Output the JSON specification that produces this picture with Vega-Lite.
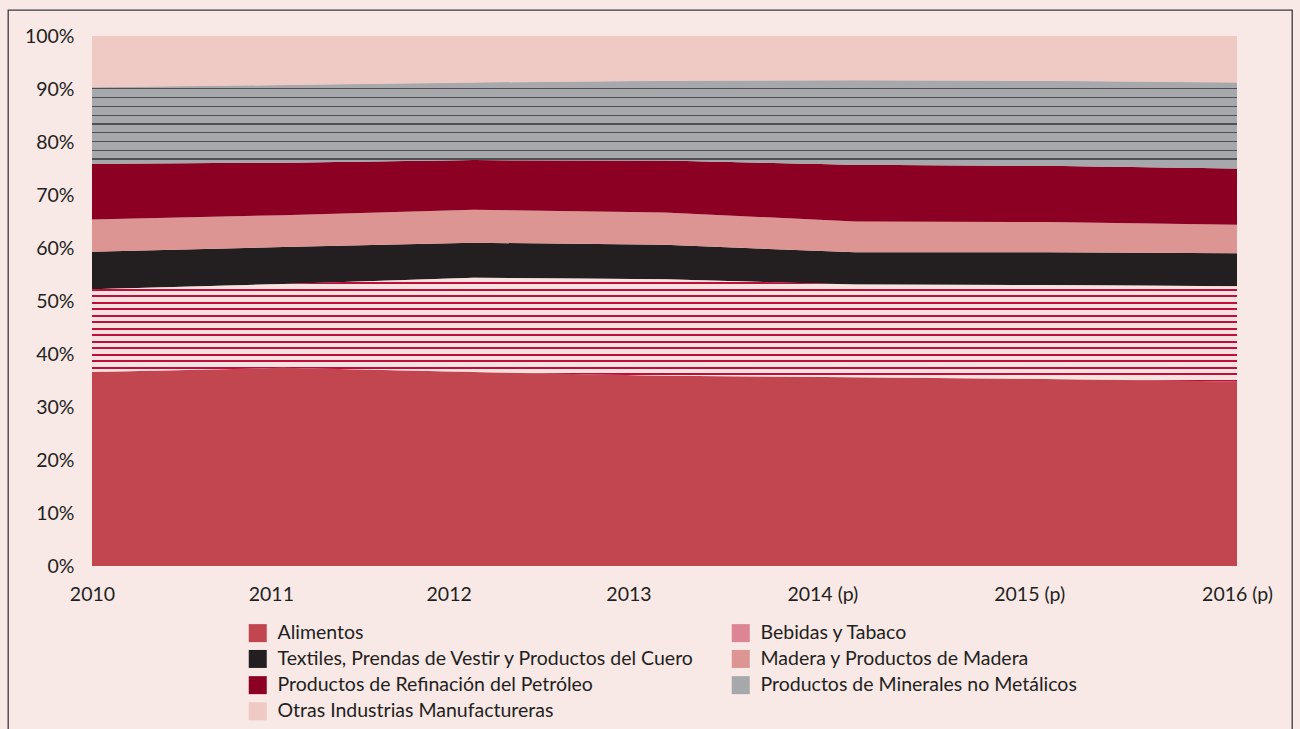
{
  "$schema": "https://vega.github.io/schema/vega-lite/v6.json",
  "width": 1284,
  "height": 719,
  "autosize": {"type": "none"},
  "padding": {"left": 8, "top": 10, "right": 8, "bottom": 0},
  "background": "#f8e8e6",
  "config": {
    "view": {"fill": "#f8e8e6", "stroke": "#3a3a3c", "strokeWidth": 1.3, "strokeDash": [2003, 1284, 719, 0]},
    "font": "Lato",
    "axis": {"labelFont": "Lato", "labelFontSize": 19.5, "labelColor": "#231f20", "domain": false, "ticks": false, "grid": false, "title": null, "labelPadding": 0}
  },
  "data": {
    "values": [
      {"year": "2010", "sector": "Alimentos", "share": 36.6},
      {"year": "2010", "sector": "Bebidas y Tabaco", "share": 15.6},
      {"year": "2010", "sector": "Textiles, Prendas de Vestir y Productos del Cuero", "share": 7.1},
      {"year": "2010", "sector": "Madera y Productos de Madera", "share": 6.1},
      {"year": "2010", "sector": "Productos de Refinación del Petróleo", "share": 10.5},
      {"year": "2010", "sector": "Productos de Minerales no Metálicos", "share": 14.4},
      {"year": "2010", "sector": "Otras Industrias Manufactureras", "share": 9.7},
      {"year": "2011", "sector": "Alimentos", "share": 37.4},
      {"year": "2011", "sector": "Bebidas y Tabaco", "share": 15.8},
      {"year": "2011", "sector": "Textiles, Prendas de Vestir y Productos del Cuero", "share": 7.0},
      {"year": "2011", "sector": "Madera y Productos de Madera", "share": 6.0},
      {"year": "2011", "sector": "Productos de Refinación del Petróleo", "share": 9.9},
      {"year": "2011", "sector": "Productos de Minerales no Metálicos", "share": 14.6},
      {"year": "2011", "sector": "Otras Industrias Manufactureras", "share": 9.3},
      {"year": "2012", "sector": "Alimentos", "share": 36.6},
      {"year": "2012", "sector": "Bebidas y Tabaco", "share": 17.8},
      {"year": "2012", "sector": "Textiles, Prendas de Vestir y Productos del Cuero", "share": 6.6},
      {"year": "2012", "sector": "Madera y Productos de Madera", "share": 6.2},
      {"year": "2012", "sector": "Productos de Refinación del Petróleo", "share": 9.4},
      {"year": "2012", "sector": "Productos de Minerales no Metálicos", "share": 14.6},
      {"year": "2012", "sector": "Otras Industrias Manufactureras", "share": 8.8},
      {"year": "2013", "sector": "Alimentos", "share": 35.9},
      {"year": "2013", "sector": "Bebidas y Tabaco", "share": 18.2},
      {"year": "2013", "sector": "Textiles, Prendas de Vestir y Productos del Cuero", "share": 6.5},
      {"year": "2013", "sector": "Madera y Productos de Madera", "share": 6.1},
      {"year": "2013", "sector": "Productos de Refinación del Petróleo", "share": 9.8},
      {"year": "2013", "sector": "Productos de Minerales no Metálicos", "share": 15.0},
      {"year": "2013", "sector": "Otras Industrias Manufactureras", "share": 8.5},
      {"year": "2014 (p)", "sector": "Alimentos", "share": 35.6},
      {"year": "2014 (p)", "sector": "Bebidas y Tabaco", "share": 17.5},
      {"year": "2014 (p)", "sector": "Textiles, Prendas de Vestir y Productos del Cuero", "share": 6.1},
      {"year": "2014 (p)", "sector": "Madera y Productos de Madera", "share": 5.8},
      {"year": "2014 (p)", "sector": "Productos de Refinación del Petróleo", "share": 10.7},
      {"year": "2014 (p)", "sector": "Productos de Minerales no Metálicos", "share": 15.9},
      {"year": "2014 (p)", "sector": "Otras Industrias Manufactureras", "share": 8.4},
      {"year": "2015 (p)", "sector": "Alimentos", "share": 35.3},
      {"year": "2015 (p)", "sector": "Bebidas y Tabaco", "share": 17.7},
      {"year": "2015 (p)", "sector": "Textiles, Prendas de Vestir y Productos del Cuero", "share": 6.2},
      {"year": "2015 (p)", "sector": "Madera y Productos de Madera", "share": 5.7},
      {"year": "2015 (p)", "sector": "Productos de Refinación del Petróleo", "share": 10.6},
      {"year": "2015 (p)", "sector": "Productos de Minerales no Metálicos", "share": 16.0},
      {"year": "2015 (p)", "sector": "Otras Industrias Manufactureras", "share": 8.5},
      {"year": "2016 (p)", "sector": "Alimentos", "share": 34.8},
      {"year": "2016 (p)", "sector": "Bebidas y Tabaco", "share": 18.0},
      {"year": "2016 (p)", "sector": "Textiles, Prendas de Vestir y Productos del Cuero", "share": 6.2},
      {"year": "2016 (p)", "sector": "Madera y Productos de Madera", "share": 5.4},
      {"year": "2016 (p)", "sector": "Productos de Refinación del Petróleo", "share": 10.6},
      {"year": "2016 (p)", "sector": "Productos de Minerales no Metálicos", "share": 16.2},
      {"year": "2016 (p)", "sector": "Otras Industrias Manufactureras", "share": 8.8}
    ]
  },
  "transform": [
    {"calculate": "indexof(['Alimentos', 'Bebidas y Tabaco', 'Textiles, Prendas de Vestir y Productos del Cuero', 'Madera y Productos de Madera', 'Productos de Refinación del Petróleo', 'Productos de Minerales no Metálicos', 'Otras Industrias Manufactureras'], datum.sector)", "as": "rank"},
    {"stack": "share", "groupby": ["year"], "offset": "normalize", "sort": [{"field": "rank", "order": "ascending"}], "as": ["lo", "hi"]}
  ],
  "encoding": {
    "x": {
      "field": "year",
      "type": "ordinal",
      "sort": null,
      "scale": {"type": "point", "domain": ["2010", "2011", "2012", "2013", "2014 (p)", "2015 (p)", "2016 (p)"], "padding": 0.3642, "align": 0.6043},
      "axis": {
        "orient": "bottom",
        "offset": -135,
        "labelAngle": 0,
        "labelBaseline": "middle",
        "labelOverlap": false,
        "labelOffset": {
          "condition": [
            {"test": "datum.value === '2011'", "value": -12},
            {"test": "datum.value === '2012'", "value": -25},
            {"test": "datum.value === '2013'", "value": -36},
            {"test": "datum.value === '2014 (p)'", "value": -33},
            {"test": "datum.value === '2015 (p)'", "value": -17}
          ],
          "value": 0
        }
      }
    },
    "y": {
      "field": "lo",
      "type": "quantitative",
      "scale": {"domain": [-0.3075, 1.0491], "nice": false, "zero": false},
      "axis": {"orient": "left", "offset": -66, "values": [0, 0.1, 0.2, 0.3, 0.4, 0.5, 0.6, 0.7, 0.8, 0.9, 1], "format": ".0%", "labelOverlap": false, "labelFlush": false}
    },
    "y2": {"field": "hi"}
  },
  "layer": [
    {
      "mark": {"type": "area", "interpolate": "linear"},
      "encoding": {
        "color": {
          "field": "sector",
          "type": "nominal",
          "scale": {
            "domain": ["Alimentos", "Bebidas y Tabaco", "Textiles, Prendas de Vestir y Productos del Cuero", "Madera y Productos de Madera", "Productos de Refinación del Petróleo", "Productos de Minerales no Metálicos", "Otras Industrias Manufactureras"],
            "range": ["#c1464f", "#dc8595", "#231f20", "#dc9592", "#8c0024", "#a6a8ab", "#efc9c3"]
          },
          "legend": {
            "orient": "none",
            "legendX": 240,
            "legendY": 613,
            "columns": 2,
            "direction": "horizontal",
            "title": null,
            "padding": 0,
            "symbolType": "square",
            "symbolSize": 324,
            "symbolStrokeWidth": 0,
            "symbolOpacity": 1,
            "labelFont": "Lato",
            "labelFontSize": 19.5,
            "labelColor": "#231f20",
            "labelLimit": 700,
            "labelOffset": 10,
            "rowPadding": 5.2,
            "columnPadding": 36,
            "encode": {
              "symbols": {
                "update": {
                  "fill": [
                    {
                      "test": "datum.value === 'Bebidas y Tabaco'",
                      "value": {
                        "gradient": "linear", "x1": 0, "y1": 0, "x2": 0, "y2": 1,
                        "stops": [
                          {"offset": 0, "color": "#f6e2de"}, {"offset": 0.15, "color": "#f6e2de"}, {"offset": 0.15, "color": "#c00d3b"}, {"offset": 0.25, "color": "#c00d3b"},
                          {"offset": 0.25, "color": "#f6e2de"}, {"offset": 0.4, "color": "#f6e2de"}, {"offset": 0.4, "color": "#c00d3b"}, {"offset": 0.5, "color": "#c00d3b"},
                          {"offset": 0.5, "color": "#f6e2de"}, {"offset": 0.65, "color": "#f6e2de"}, {"offset": 0.65, "color": "#c00d3b"}, {"offset": 0.75, "color": "#c00d3b"},
                          {"offset": 0.75, "color": "#f6e2de"}, {"offset": 0.9, "color": "#f6e2de"}, {"offset": 0.9, "color": "#c00d3b"}, {"offset": 1, "color": "#c00d3b"}
                        ]
                      }
                    },
                    {
                      "test": "datum.value === 'Productos de Minerales no Metálicos'",
                      "value": {
                        "gradient": "linear", "x1": 0, "y1": 0, "x2": 0, "y2": 1,
                        "stops": [
                          {"offset": 0, "color": "#a6a8ab"}, {"offset": 0.28, "color": "#a6a8ab"}, {"offset": 0.28, "color": "#505053"}, {"offset": 0.34, "color": "#505053"},
                          {"offset": 0.34, "color": "#a6a8ab"}, {"offset": 0.62, "color": "#a6a8ab"}, {"offset": 0.62, "color": "#505053"}, {"offset": 0.68, "color": "#505053"},
                          {"offset": 0.68, "color": "#a6a8ab"}, {"offset": 1, "color": "#a6a8ab"}
                        ]
                      }
                    },
                    {"scale": "color", "field": "value"}
                  ]
                }
              }
            }
          }
        }
      }
    },
    {
      "transform": [{"filter": "datum.sector === 'Bebidas y Tabaco'"}],
      "mark": {
        "type": "area",
        "fill": {
          "gradient": "linear", "x1": 0, "y1": 0, "x2": 0, "y2": 1,
          "stops": [
            {"offset": 0, "color": "#f6e2de"}, {"offset": 0.0425, "color": "#f6e2de"}, {"offset": 0.0425, "color": "#c00d3b"}, {"offset": 0.0625, "color": "#c00d3b"},
            {"offset": 0.0625, "color": "#f6e2de"}, {"offset": 0.105, "color": "#f6e2de"}, {"offset": 0.105, "color": "#c00d3b"}, {"offset": 0.125, "color": "#c00d3b"},
            {"offset": 0.125, "color": "#f6e2de"}, {"offset": 0.1675, "color": "#f6e2de"}, {"offset": 0.1675, "color": "#c00d3b"}, {"offset": 0.1875, "color": "#c00d3b"},
            {"offset": 0.1875, "color": "#f6e2de"}, {"offset": 0.23, "color": "#f6e2de"}, {"offset": 0.23, "color": "#c00d3b"}, {"offset": 0.25, "color": "#c00d3b"},
            {"offset": 0.25, "color": "#f6e2de"}, {"offset": 0.2925, "color": "#f6e2de"}, {"offset": 0.2925, "color": "#c00d3b"}, {"offset": 0.3125, "color": "#c00d3b"},
            {"offset": 0.3125, "color": "#f6e2de"}, {"offset": 0.355, "color": "#f6e2de"}, {"offset": 0.355, "color": "#c00d3b"}, {"offset": 0.375, "color": "#c00d3b"},
            {"offset": 0.375, "color": "#f6e2de"}, {"offset": 0.4175, "color": "#f6e2de"}, {"offset": 0.4175, "color": "#c00d3b"}, {"offset": 0.4375, "color": "#c00d3b"},
            {"offset": 0.4375, "color": "#f6e2de"}, {"offset": 0.48, "color": "#f6e2de"}, {"offset": 0.48, "color": "#c00d3b"}, {"offset": 0.5, "color": "#c00d3b"},
            {"offset": 0.5, "color": "#f6e2de"}, {"offset": 0.5425, "color": "#f6e2de"}, {"offset": 0.5425, "color": "#c00d3b"}, {"offset": 0.5625, "color": "#c00d3b"},
            {"offset": 0.5625, "color": "#f6e2de"}, {"offset": 0.605, "color": "#f6e2de"}, {"offset": 0.605, "color": "#c00d3b"}, {"offset": 0.625, "color": "#c00d3b"},
            {"offset": 0.625, "color": "#f6e2de"}, {"offset": 0.6675, "color": "#f6e2de"}, {"offset": 0.6675, "color": "#c00d3b"}, {"offset": 0.6875, "color": "#c00d3b"},
            {"offset": 0.6875, "color": "#f6e2de"}, {"offset": 0.73, "color": "#f6e2de"}, {"offset": 0.73, "color": "#c00d3b"}, {"offset": 0.75, "color": "#c00d3b"},
            {"offset": 0.75, "color": "#f6e2de"}, {"offset": 0.7925, "color": "#f6e2de"}, {"offset": 0.7925, "color": "#c00d3b"}, {"offset": 0.8125, "color": "#c00d3b"},
            {"offset": 0.8125, "color": "#f6e2de"}, {"offset": 0.855, "color": "#f6e2de"}, {"offset": 0.855, "color": "#c00d3b"}, {"offset": 0.875, "color": "#c00d3b"},
            {"offset": 0.875, "color": "#f6e2de"}, {"offset": 0.9175, "color": "#f6e2de"}, {"offset": 0.9175, "color": "#c00d3b"}, {"offset": 0.9375, "color": "#c00d3b"},
            {"offset": 0.9375, "color": "#f6e2de"}, {"offset": 0.98, "color": "#f6e2de"}, {"offset": 0.98, "color": "#c00d3b"}, {"offset": 1, "color": "#c00d3b"}
          ]
        }
      }
    },
    {
      "transform": [{"filter": "datum.sector === 'Productos de Minerales no Metálicos'"}],
      "mark": {
        "type": "area",
        "fill": {
          "gradient": "linear", "x1": 0, "y1": 0, "x2": 0, "y2": 1,
          "stops": [
            {"offset": 0, "color": "#a6a8ab"}, {"offset": 0.086, "color": "#a6a8ab"}, {"offset": 0.086, "color": "#505053"}, {"offset": 0.1, "color": "#505053"},
            {"offset": 0.1, "color": "#a6a8ab"}, {"offset": 0.186, "color": "#a6a8ab"}, {"offset": 0.186, "color": "#505053"}, {"offset": 0.2, "color": "#505053"},
            {"offset": 0.2, "color": "#a6a8ab"}, {"offset": 0.286, "color": "#a6a8ab"}, {"offset": 0.286, "color": "#505053"}, {"offset": 0.3, "color": "#505053"},
            {"offset": 0.3, "color": "#a6a8ab"}, {"offset": 0.386, "color": "#a6a8ab"}, {"offset": 0.386, "color": "#505053"}, {"offset": 0.4, "color": "#505053"},
            {"offset": 0.4, "color": "#a6a8ab"}, {"offset": 0.486, "color": "#a6a8ab"}, {"offset": 0.486, "color": "#505053"}, {"offset": 0.5, "color": "#505053"},
            {"offset": 0.5, "color": "#a6a8ab"}, {"offset": 0.586, "color": "#a6a8ab"}, {"offset": 0.586, "color": "#505053"}, {"offset": 0.6, "color": "#505053"},
            {"offset": 0.6, "color": "#a6a8ab"}, {"offset": 0.686, "color": "#a6a8ab"}, {"offset": 0.686, "color": "#505053"}, {"offset": 0.7, "color": "#505053"},
            {"offset": 0.7, "color": "#a6a8ab"}, {"offset": 0.786, "color": "#a6a8ab"}, {"offset": 0.786, "color": "#505053"}, {"offset": 0.8, "color": "#505053"},
            {"offset": 0.8, "color": "#a6a8ab"}, {"offset": 0.886, "color": "#a6a8ab"}, {"offset": 0.886, "color": "#505053"}, {"offset": 0.9, "color": "#505053"},
            {"offset": 0.9, "color": "#a6a8ab"}, {"offset": 1, "color": "#a6a8ab"}
          ]
        }
      }
    }
  ]
}
